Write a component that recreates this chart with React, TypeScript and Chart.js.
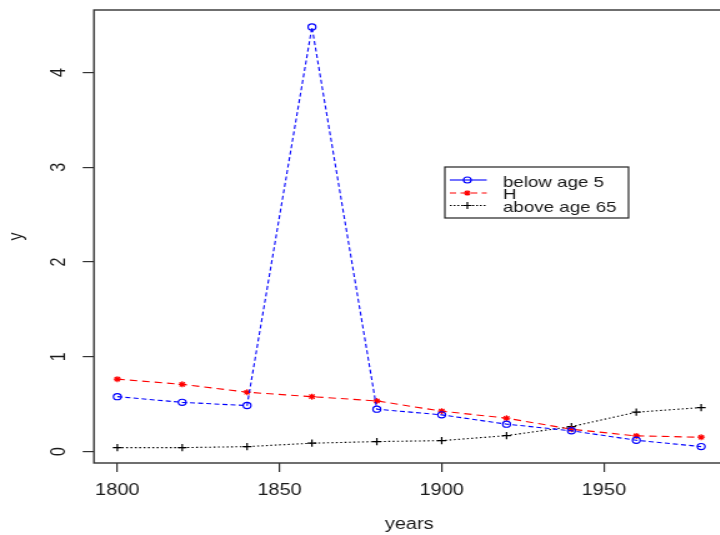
import React, { useEffect, useRef } from "react";
import { Chart, registerables } from "chart.js";

Chart.register(...registerables);

// ---- data ----
const years = [1800, 1820, 1840, 1860, 1880, 1900, 1920, 1940, 1960, 1980];
const belowAge5 = [0.58, 0.52, 0.486, 4.48, 0.448, 0.388, 0.29, 0.22, 0.12, 0.053];
const hValues = [0.765, 0.71, 0.627, 0.58, 0.535, 0.427, 0.353, 0.236, 0.166, 0.152];
const aboveAge65 = [0.042, 0.042, 0.053, 0.089, 0.106, 0.116, 0.169, 0.264, 0.416, 0.465];
const seriesLabels = ["below age 5", "H", "above age 65"];
const xTicks = [1800, 1850, 1900, 1950];
const yTicks = [0, 1, 2, 3, 4];
const xTitle = "years";
const yTitle = "y";

// ---- geometry / style ----
const CW = 585; // canvas drawing width
const CH = 535;
const DISPLAY_W = 731; // horizontally stretched like the reference
const FONT = "'Liberation Sans', Arial, Helvetica, sans-serif";
const TEXT = "#1a1a1a";
const AXIS = "#333333";

const seriesColors = ["#0000ff", "#ff0000", "#000000"];
const seriesDash = [[4, 2.5], [6, 4], [1.5, 2]];
const legendDash = [[], [5, 3.5], [1.5, 1.5]];
const seriesPoint = ["circle", "star", "cross"];

function drawMarker(ctx: CanvasRenderingContext2D, kind: string, x: number, y: number, color: string) {
  ctx.save();
  ctx.strokeStyle = color;
  ctx.setLineDash([]);
  ctx.lineWidth = 1.2;
  ctx.beginPath();
  if (kind === "circle") {
    ctx.arc(x, y, 3, 0, Math.PI * 2);
  } else if (kind === "star") {
    const r = 2.8;
    ctx.moveTo(x - r, y); ctx.lineTo(x + r, y);
    ctx.moveTo(x, y - r); ctx.lineTo(x, y + r);
    const d = r * 0.707;
    ctx.moveTo(x - d, y - d); ctx.lineTo(x + d, y + d);
    ctx.moveTo(x - d, y + d); ctx.lineTo(x + d, y - d);
  } else {
    const r = 3.5;
    ctx.moveTo(x - r, y); ctx.lineTo(x + r, y);
    ctx.moveTo(x, y - r); ctx.lineTo(x, y + r);
  }
  ctx.stroke();
  ctx.restore();
}

const boxPlugin = {
  id: "rBox",
  afterDraw(chart: any) {
    const { ctx, chartArea } = chart;
    ctx.save();
    ctx.strokeStyle = AXIS;
    ctx.lineWidth = 1.4;
    ctx.setLineDash([]);
    ctx.strokeRect(chartArea.left, chartArea.top, chartArea.right - chartArea.left - 1, chartArea.bottom - chartArea.top);
    ctx.restore();
  },
};

const legendPlugin = {
  id: "rLegend",
  afterDraw(chart: any) {
    const ctx: CanvasRenderingContext2D = chart.ctx;
    const bx = 356, by = 167, bw = 147, bh = 51;
    ctx.save();
    ctx.fillStyle = "#ffffff";
    ctx.fillRect(bx, by, bw, bh);
    ctx.strokeStyle = "#222";
    ctx.lineWidth = 1.2;
    ctx.strokeRect(bx, by, bw, bh);
    const lineYs = [180, 193, 205.5];
    const baseYs = [187, 199, 212];
    chart.data.datasets.forEach((ds: any, i: number) => {
      const y = lineYs[i];
      ctx.save();
      ctx.strokeStyle = seriesColors[i];
      ctx.lineWidth = 1.1;
      ctx.setLineDash(legendDash[i]);
      ctx.beginPath();
      ctx.moveTo(360, y);
      ctx.lineTo(389.5, y);
      ctx.stroke();
      ctx.restore();
      drawMarker(ctx, seriesPoint[i], 374, y, seriesColors[i]);
      ctx.fillStyle = TEXT;
      ctx.font = `15px ${FONT}`;
      ctx.textAlign = "left";
      ctx.textBaseline = "alphabetic";
      ctx.fillText(ds.label, 402.5, baseYs[i]);
    });
    ctx.restore();
  },
};

export default function App() {
  const canvasRef = useRef<HTMLCanvasElement | null>(null);

  useEffect(() => {
    document.body.style.margin = "0";
    const canvas = canvasRef.current;
    if (!canvas) return;
    const series = [belowAge5, hValues, aboveAge65];
    const chart = new Chart(canvas, {
      type: "line",
      data: {
        datasets: series.map((vals, i) => ({
          label: seriesLabels[i],
          data: years.map((yr, j) => ({ x: yr, y: vals[j] })),
          borderColor: seriesColors[i],
          backgroundColor: "rgba(0,0,0,0)",
          borderWidth: 1.1,
          borderDash: seriesDash[i],
          pointStyle: seriesPoint[i] as any,
          pointRadius: i === 0 ? 3.1 : i === 1 ? 3 : 3.6,
          pointBorderWidth: 1.2,
          pointBorderColor: seriesColors[i],
          pointBackgroundColor: "rgba(0,0,0,0)",
          tension: 0,
          fill: false,
        })),
      },
      options: {
        responsive: false,
        maintainAspectRatio: false,
        devicePixelRatio: 1,
        animation: false,
        layout: { padding: { left: 0, right: 0, top: 10, bottom: 0 } },
        plugins: {
          legend: { display: false },
          tooltip: { enabled: false },
        },
        scales: {
          x: {
            type: "linear",
            min: 1792.8,
            max: 1987.2,
            afterBuildTicks: (s: any) => {
              s.ticks = xTicks.map((v) => ({ value: v }));
            },
            afterFit: (s: any) => {
              s.height = 72;
              s.paddingLeft = 0;
              s.paddingRight = 0;
            },
            grid: {
              drawOnChartArea: false,
              drawTicks: true,
              tickLength: 9,
              color: AXIS,
              tickColor: AXIS,
              lineWidth: 1.2,
            },
            border: { display: false },
            ticks: {
              autoSkip: false,
              maxRotation: 0,
              minRotation: 0,
              padding: 8.5,
              color: TEXT,
              font: { family: FONT, size: 16 },
              callback: (v: any) => String(v),
            },
            title: {
              display: true,
              text: xTitle,
              color: TEXT,
              font: { family: FONT, size: 16 },
              padding: { top: 0, bottom: 1 },
            },
          },
          y: {
            type: "linear",
            min: -0.12,
            max: 4.66,
            afterBuildTicks: (s: any) => {
              s.ticks = yTicks.map((v) => ({ value: v }));
            },
            afterFit: (s: any) => {
              s.width = 75.2;
              s.paddingTop = 0;
              s.paddingBottom = 0;
            },
            grid: {
              drawOnChartArea: false,
              drawTicks: true,
              tickLength: 9,
              color: AXIS,
              tickColor: AXIS,
              lineWidth: 1.2,
            },
            border: { display: false },
            ticks: {
              autoSkip: false,
              minRotation: 90,
              maxRotation: 90,
              crossAlign: "center",
              padding: 14.5,
              color: TEXT,
              font: { family: FONT, size: 16 },
              callback: (v: any) => String(v),
            },
            title: {
              display: true,
              text: yTitle,
              color: TEXT,
              font: { family: FONT, size: 16 },
              padding: { top: 4, bottom: 0 },
            },
          },
        },
      },
      plugins: [boxPlugin, legendPlugin],
    } as any);
    return () => chart.destroy();
  }, []);

  return (
    <div
      style={{
        position: "fixed",
        left: 0,
        top: 0,
        width: 720,
        height: 535,
        overflow: "hidden",
        background: "#ffffff",
      }}
    >
      <canvas
        ref={canvasRef}
        width={CW}
        height={CH}
        style={{ width: `${DISPLAY_W}px`, height: `${CH}px`, display: "block" }}
      />
    </div>
  );
}
